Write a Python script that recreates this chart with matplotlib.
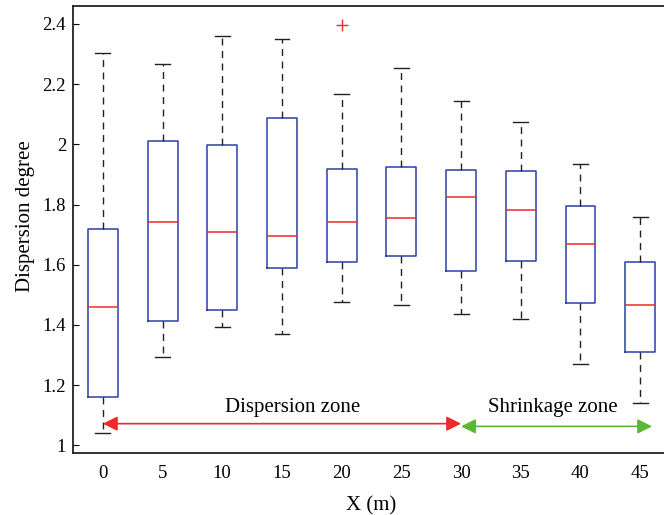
import matplotlib
matplotlib.use("Agg")
import matplotlib.pyplot as plt

# Data
x_labels = ["0", "5", "10", "15", "20", "25", "30", "35", "40", "45"]
whislo = [1.041, 1.292, 1.393, 1.371, 1.475, 1.467, 1.435, 1.421, 1.270, 1.142]
q1     = [1.159, 1.412, 1.448, 1.590, 1.609, 1.628, 1.580, 1.614, 1.472, 1.311]
med    = [1.458, 1.742, 1.710, 1.696, 1.742, 1.755, 1.824, 1.783, 1.669, 1.467]
q3     = [1.718, 2.011, 1.998, 2.086, 1.919, 1.925, 1.915, 1.910, 1.795, 1.608]
whishi = [2.305, 2.268, 2.360, 2.351, 2.167, 2.255, 2.145, 2.075, 1.934, 1.760]
fliers = [[], [], [], [], [2.397], [], [], [], [], []]

y_ticks = [1, 1.2, 1.4, 1.6, 1.8, 2, 2.2, 2.4]
y_tick_labels = ["1", "1.2", "1.4", "1.6", "1.8", "2", "2.2", "2.4"]

plt.rcParams['font.family'] = ['Liberation Serif', 'DejaVu Serif']

fig = plt.figure(figsize=(6.64, 5.15), dpi=100)
ax = fig.add_axes([0.110, 0.1195, 0.899, 0.869])

stats = []
for i in range(len(x_labels)):
    stats.append(dict(whislo=whislo[i], q1=q1[i], med=med[i], q3=q3[i],
                      whishi=whishi[i], fliers=fliers[i], label=x_labels[i]))

positions = list(range(1, len(x_labels) + 1))
ax.bxp(stats, positions=positions, widths=0.5, capwidths=0.25,
       showfliers=True,
       boxprops=dict(color='#2b40a6', linewidth=1.1),
       medianprops=dict(color='#ee2a2a', linewidth=1.1),
       whiskerprops=dict(color='#222222', linewidth=1.0, linestyle=(0, (5, 4))),
       capprops=dict(color='#222222', linewidth=1.0),
       flierprops=dict(marker='+', markeredgecolor='#ee2a2a', markersize=8,
                       markeredgewidth=1.0, linestyle='none'))

ax.set_xlim(0.5, 10.5)
ax.set_ylim(0.973, 2.46)
ax.set_yticks(y_ticks)
ax.set_yticklabels(y_tick_labels)
ax.set_xticks(positions)
ax.set_xticklabels(x_labels)
ax.tick_params(axis='y', direction='in', length=4, labelsize=13.5, pad=5)
ax.tick_params(axis='x', length=0, labelsize=13.5, pad=8)
for s in ax.spines.values():
    s.set_linewidth(1.3)
    s.set_color('#222222')

ax.set_xlabel("X (m)", fontsize=15)
ax.set_ylabel("Dispersion degree", fontsize=15)
ax.xaxis.set_label_coords(0.499, -0.095)
ax.yaxis.set_label_coords(-0.064, 0.53)

# Zone arrows
ax.annotate("", xy=(1.0, 1.072), xytext=(7.0, 1.072),
            arrowprops=dict(arrowstyle='<|-|>', color='#ee2a2a', lw=1.2,
                            mutation_scale=22, shrinkA=0, shrinkB=0))
ax.annotate("", xy=(7.0, 1.063), xytext=(10.2, 1.063),
            arrowprops=dict(arrowstyle='<|-|>', color='#5ab830', lw=1.2,
                            mutation_scale=22, shrinkA=0, shrinkB=0))
ax.text(4.18, 1.125, "Dispersion zone", fontsize=15, ha='center', va='center')
ax.text(8.54, 1.125, "Shrinkage zone", fontsize=15, ha='center', va='center')

fig.savefig("out.png", dpi=100)
